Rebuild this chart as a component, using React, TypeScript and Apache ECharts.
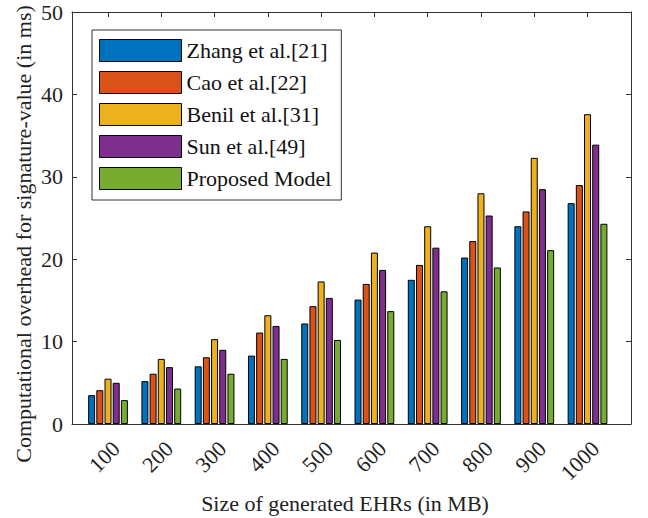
import React, { useEffect, useRef } from "react";
import * as echarts from "echarts";

const xValues = [100, 200, 300, 400, 500, 600, 700, 800, 900, 1000];
const xTickLabels = ["100", "200", "300", "400", "500", "600", "700", "800", "900", "1000"];
const zhang = [3.5, 5.2, 7.0, 8.3, 12.2, 15.1, 17.5, 20.2, 24.0, 26.8];
const cao = [4.1, 6.1, 8.1, 11.1, 14.3, 17.0, 19.3, 22.2, 25.8, 29.0];
const benil = [5.5, 7.9, 10.3, 13.2, 17.3, 20.8, 24.0, 28.0, 32.3, 37.6];
const sun = [5.0, 6.9, 9.0, 11.9, 15.3, 18.7, 21.4, 25.3, 28.5, 33.9];
const proposed = [2.9, 4.3, 6.1, 7.9, 10.2, 13.7, 16.1, 19.0, 21.1, 24.3];

const seriesNames = ["Zhang et al.[21]", "Cao et al.[22]", "Benil et al.[31]", "Sun et al.[49]", "Proposed Model"];
const colors = ["#0072BD", "#D95319", "#EDB120", "#7E2F8E", "#77AC30"];
const xTitle = "Size of generated EHRs (in MB)";
const yTitle = "Computational overhead for signature-value (in ms)";

const FONT = "'Liberation Serif', 'DejaVu Serif', serif";
const X_MIN = 32.4;
const X_MAX = 1081.6;
const LABEL_SHIFT = 15; // axis units: nudges rotated tick labels right like MATLAB

export default function App() {
  const ref = useRef<HTMLDivElement>(null);
  useEffect(() => {
    if (!ref.current) return;
    const chart = echarts.init(ref.current, null, { renderer: "svg" });
    const data = [zhang, cao, benil, sun, proposed];
    const labelOf = (v: number) => {
      const i = xValues.indexOf(Math.round(v - LABEL_SHIFT));
      return i >= 0 ? xTickLabels[i] : "";
    };
    chart.setOption({
      animation: false,
      textStyle: { fontFamily: FONT },
      grid: { left: 72, right: 17, top: 12, bottom: 94, containLabel: false },
      legend: {
        orient: "vertical",
        left: 92,
        top: 30,
        itemWidth: 82,
        itemHeight: 22,
        itemGap: 9,
        padding: [9, 10, 10, 7],
        borderColor: "#333",
        borderWidth: 1,
        backgroundColor: "#fff",
        textStyle: { fontFamily: FONT, fontSize: 22, color: "#111" },
        itemStyle: { borderColor: "#000", borderWidth: 1 },
        data: seriesNames.map((n) => ({ name: n, icon: "rect" })),
      },
      graphic: [
        {
          type: "text",
          x: 23,
          y: 234,
          rotation: Math.PI / 2,
          style: {
            text: yTitle,
            font: `22px ${FONT}`,
            fill: "#222",
            textAlign: "center",
            textVerticalAlign: "middle",
          },
        },
        {
          type: "text",
          x: 345,
          y: 503,
          style: {
            text: xTitle,
            font: `22px ${FONT}`,
            fill: "#222",
            textAlign: "center",
            textVerticalAlign: "middle",
          },
        },
      ],
      xAxis: [
        {
          type: "value",
          min: X_MIN,
          max: X_MAX,
          axisLine: { show: true, onZero: false, lineStyle: { color: "#333", width: 1 } },
          axisTick: { show: true, inside: true, length: 5, customValues: xValues, lineStyle: { color: "#333" } },
          axisLabel: {
            rotate: 45,
            fontFamily: FONT,
            fontSize: 22,
            color: "#222",
            margin: 21,
            customValues: xValues.map((v) => v + LABEL_SHIFT),
            formatter: (v: number) => labelOf(v),
          },
          splitLine: { show: false },
        },
        {
          type: "value",
          min: X_MIN,
          max: X_MAX,
          position: "top",
          axisLine: { show: true, onZero: false, lineStyle: { color: "#333", width: 1 } },
          axisTick: { show: true, inside: true, length: 5, customValues: xValues, lineStyle: { color: "#333" } },
          axisLabel: { show: false },
          splitLine: { show: false },
        },
      ],
      yAxis: [
        {
          type: "value",
          min: 0,
          max: 50,
          interval: 10,
          axisLine: { show: true, lineStyle: { color: "#333", width: 1 } },
          axisTick: { show: true, inside: true, length: 5, lineStyle: { color: "#333" } },
          axisLabel: { fontFamily: FONT, fontSize: 22, color: "#222", margin: 9 },
          splitLine: { show: false },
        },
        {
          type: "value",
          min: 0,
          max: 50,
          interval: 10,
          position: "right",
          axisLine: { show: true, lineStyle: { color: "#333", width: 1 } },
          axisTick: { show: true, inside: true, length: 5, lineStyle: { color: "#333" } },
          axisLabel: { show: false },
          splitLine: { show: false },
        },
      ],
      series: seriesNames.map((name, i) => ({
        name,
        type: "bar",
        data: xValues.map((x, j) => [x, data[i][j]]),
        barWidth: 7,
        barGap: "17%",
        itemStyle: { color: colors[i], borderColor: "#000", borderWidth: 1 },
      })),
    });
    return () => chart.dispose();
  }, []);
  return <div ref={ref} style={{ width: 648, height: 518, position: "absolute", left: 0, top: 0 }} />;
}
